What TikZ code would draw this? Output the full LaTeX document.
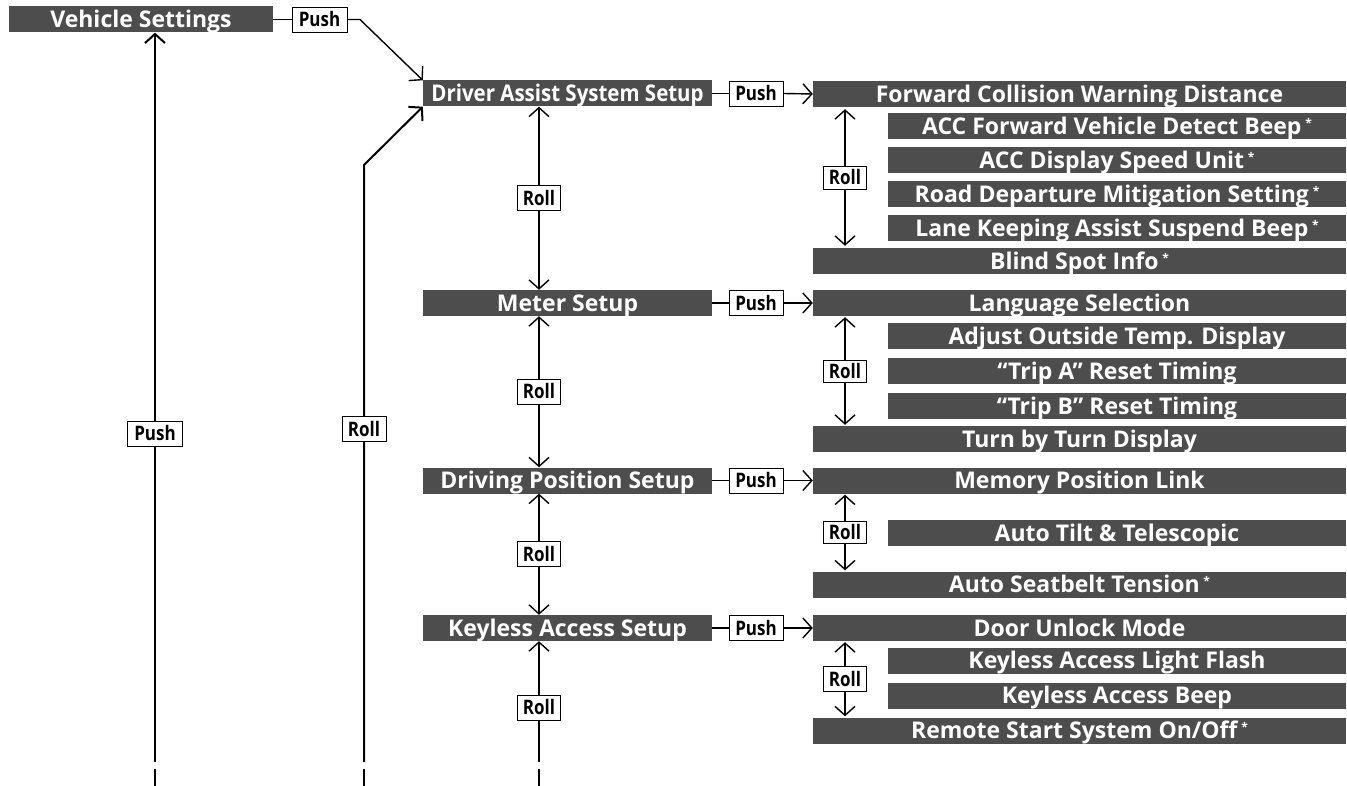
\documentclass[tikz,border=0pt]{standalone}
\usepackage{fontspec}
\setmainfont{Open Sans}
\newfontfamily\menufont{Open Sans}
\newfontfamily\narrowmenufont[FakeStretch=0.89]{Open Sans}
\newfontfamily\tagfont[FakeStretch=0.85]{Open Sans}
\usetikzlibrary{arrows.meta}
\definecolor{menugray}{RGB}{77,77,77}
\newcommand{\opt}{\,\raisebox{7pt}{\fontsize{12}{12}\selectfont *}}

\begin{document}
\begin{tikzpicture}[x=1pt,y=-1pt,>={Straight Barb[length=9pt,width=20pt]},line join=miter,
  menu/.style={fill=menugray,text=white,inner sep=0pt,minimum height=26pt,text height=16.4pt,text depth=0pt,font=\menufont\bfseries\fontsize{23}{23}\selectfont},
  mainitem/.style={menu,minimum width=289pt},
  fullitem/.style={menu,minimum width=533pt},
  subitem/.style={menu,minimum width=458pt},
  tag/.style={draw,fill=white,line width=0.9pt,inner sep=0pt,minimum height=25pt,text height=14.3pt,text depth=0pt,font=\tagfont\bfseries\fontsize{20}{20}\selectfont},
  pushtag/.style={tag,minimum width=55pt},
  rolltag/.style={tag,minimum width=43pt},
  link/.style={line width=1.4pt},
  trunk/.style={line width=2pt}]
\useasboundingbox (0,0) rectangle (1347,786);
\coordinate (pushfoot) at (155,762);
\coordinate (rollfoot) at (364,762);
\coordinate (midfoot) at (539,762);
\coordinate (bend0) at (360,19.5);
\coordinate (bend1) at (364,165);
\coordinate (mcol) at (539,0);
\coordinate (rcol) at (845,0);
% top level
\node[menu,minimum width=264pt] (veh) at (141,19.5) {Vehicle Settings};
\node[pushtag] (push0) at (319.5,19.5) {Push};
% second level
\node[mainitem] (das) at (567.5,93.5) {\narrowmenufont Driver Assist System Setup};
\node[mainitem] (met) at (567.5,303) {Meter Setup};
\node[mainitem] (dps) at (567.5,480.5) {Driving Position Setup};
\node[mainitem] (kas) at (567.5,628) {Keyless Access Setup};
\node[pushtag,minimum width=54pt] (push1) at (756,93.5) {Push};
\node[pushtag,minimum width=54pt] (push2) at (756,303) {Push};
\node[pushtag,minimum width=54pt] (push3) at (756,480.5) {Push};
\node[pushtag,minimum width=54pt] (push4) at (756,628) {Push};
% driver assist items
\node[fullitem] (fcw) at (1079.5,94) {Forward Collision Warning Distance};
\node[subitem] (accb) at (1117,126.5) {ACC Forward Vehicle Detect Beep\opt};
\node[subitem] (accu) at (1117,160.5) {ACC Display Speed Unit\opt};
\node[subitem] (rdm) at (1117,194) {Road Departure Mitigation Setting\opt};
\node[subitem] (lka) at (1117,228) {Lane Keeping Assist Suspend Beep\opt};
\node[fullitem] (bsi) at (1079.5,261) {Blind Spot Info\opt};
% meter items
\node[fullitem] (lang) at (1079.5,303) {Language Selection};
\node[subitem] (temp) at (1117,336) {Adjust Outside Temp. Display};
\node[subitem] (tripa) at (1117,371) {“Trip A” Reset Timing};
\node[subitem] (tripb) at (1117,406) {“Trip B” Reset Timing};
\node[fullitem] (tbt) at (1079.5,439) {Turn by Turn Display};
% driving position items
\node[fullitem] (mem) at (1079.5,480.5) {Memory Position Link};
\node[subitem] (tilt) at (1117,533) {Auto Tilt \& Telescopic};
\node[fullitem] (belt) at (1079.5,584.5) {Auto Seatbelt Tension\opt};
% keyless access items
\node[fullitem] (door) at (1079.5,628) {Door Unlock Mode};
\node[subitem] (flash) at (1117,660.5) {Keyless Access Light Flash};
\node[subitem] (beep) at (1117,695.5) {Keyless Access Beep};
\node[fullitem] (rss) at (1079.5,730.5) {Remote Start System On/Off\opt};
% push links
\draw[link] (veh.east) -- (push0.west);
\draw[link,->] (push0.east) -- (bend0) -- (das.north west);
\draw[link] (das.east) -- (push1.west);
\draw[link,->] (push1.east) -- (fcw.west);
\draw[link] (met.east) -- (push2.west);
\draw[link,->] (push2.east) -- (lang.west);
\draw[link] (dps.east) -- (push3.west);
\draw[link,->] (push3.east) -- (mem.west);
\draw[link] (kas.east) -- (push4.west);
\draw[link,->] (push4.east) -- (door.west);
% back lines on the left
\draw[trunk,->] (pushfoot) -- node[pushtag,pos=0.45] (pushl) {Push} (pushfoot |- veh.south);
\draw[trunk,->] (rollfoot) -- (bend1) -- (das.south west);
\node[rolltag,minimum width=44pt] (rolll) at (364,429) {Roll};
\draw[trunk] ([yshift=-7pt]pushfoot) -- ++(0,17);
\draw[trunk] ([yshift=-7pt]rollfoot) -- ++(0,17);
\draw[link] ([yshift=-7pt]midfoot) -- ++(0,17);
% roll between second level items
\draw[link,<->] (das.south -| mcol) -- node[rolltag] (roll1) {Roll} (met.north -| mcol);
\draw[link,<->] (met.south -| mcol) -- node[rolltag] (roll2) {Roll} (dps.north -| mcol);
\draw[link,<->] (dps.south -| mcol) -- node[rolltag] (roll3) {Roll} (kas.north -| mcol);
\draw[link,->] (midfoot) -- node[rolltag,pos=0.45] (roll4) {Roll} (kas.south -| mcol);
% roll between third level items
\draw[link,<->] ([yshift=-2pt]fcw.south -| rcol) -- node[rolltag,minimum height=23pt] (roll5) {Roll} ([yshift=2pt]bsi.north -| rcol);
\draw[link,<->] ([yshift=-1pt]lang.south -| rcol) -- node[rolltag,minimum height=22pt] (roll6) {Roll} ([yshift=1pt]tbt.north -| rcol);
\draw[link,<->] ([yshift=-1pt]mem.south -| rcol) -- node[rolltag,minimum height=22pt] (roll7) {Roll} ([yshift=1pt]belt.north -| rcol);
\draw[link,<->] ([yshift=-1pt]door.south -| rcol) -- node[rolltag,minimum height=25pt] (roll8) {Roll} ([yshift=1pt]rss.north -| rcol);
\end{tikzpicture}
\end{document}
